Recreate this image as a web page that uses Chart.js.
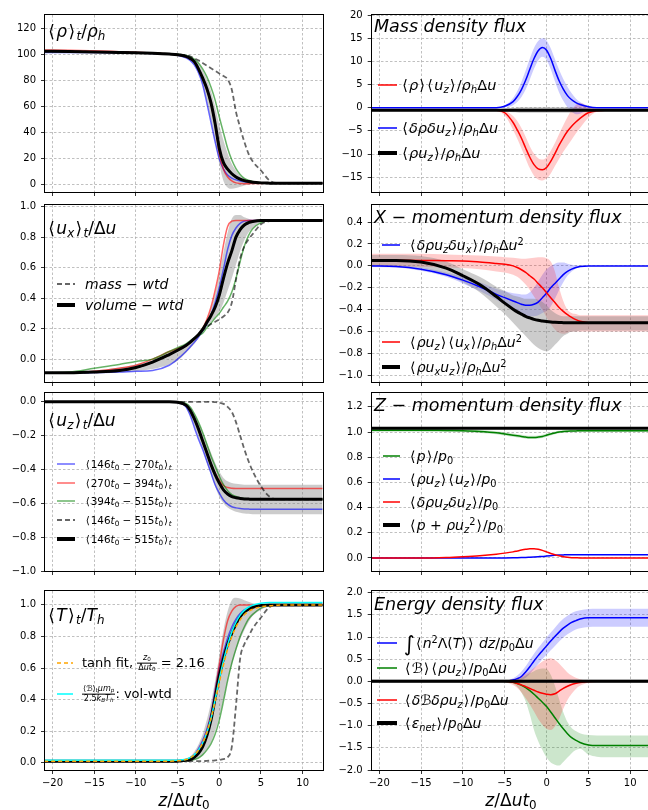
<!DOCTYPE html>
<html lang="en">
<head>
<meta charset="UTF-8">
<title>Time-averaged front profiles and density fluxes</title>
<script src="https://cdn.jsdelivr.net/npm/chart.js"></script>
<style>
  html, body { margin: 0; padding: 0; background: #fff; }
  body { width: 648px; height: 810px; position: relative; overflow: hidden;
         font-family: "DejaVu Sans", sans-serif; color: #000; }
  canvas { position: absolute; z-index: 1; }
  .txt { position: absolute; z-index: 2; white-space: nowrap; line-height: 1; transform: translateY(-50%); }
  .ctr { transform: translate(-50%, -50%); }
  .sw { position: absolute; z-index: 2; line-height: 0; }
  i { font-style: italic; }
  sub { font-size: 70%; vertical-align: -0.28em; line-height: 0; }
  sup { font-size: 70%; vertical-align: 0.55em; line-height: 0; }
  .ab { margin: 0 0.08em; }
  .fr { display: inline-block; vertical-align: middle; text-align: center; font-size: 62%; line-height: 1.1; }
  .fr > span { display: block; padding: 0 1px; }
  .fr > span:first-child { border-bottom: 0.8px solid #000; }
  .fr .ab { margin: 0; }
  .int { font-size: 150%; vertical-align: -0.12em; line-height: 0; }
</style>
</head>
<body>

<!-- panel labels -->
<div class="txt" style="left:47px; top:31px; font-size:17px">⟨<i>ρ</i>⟩<sub><i>t</i></sub>/<i>ρ<sub>h</sub></i></div>
<div class="txt" style="left:47px; top:228px; font-size:17px">⟨<i>u<sub>x</sub></i>⟩<sub><i>t</i></sub>/Δ<i>u</i></div>
<div class="txt" style="left:47px; top:420px; font-size:17px">⟨<i>u<sub>z</sub></i>⟩<sub><i>t</i></sub>/Δ<i>u</i></div>
<div class="txt" style="left:47px; top:615px; font-size:17px">⟨<i>T</i>⟩<sub><i>t</i></sub>/<i>T<sub>h</sub></i></div>
<div class="txt" style="left:374px; top:27px; font-size:17.5px"><i>Mass density flux</i></div>
<div class="txt" style="left:374px; top:218px; font-size:17.5px"><i>X</i> − <i>momentum density flux</i></div>
<div class="txt" style="left:374px; top:406px; font-size:17.5px"><i>Z</i> − <i>momentum density flux</i></div>
<div class="txt" style="left:374px; top:605px; font-size:17.5px"><i>Energy density flux</i></div>

<!-- x axis titles -->
<div class="txt ctr" style="left:184px; top:800px; font-size:17px"><i>z</i>/Δ<i>ut</i><sub>0</sub></div>
<div class="txt ctr" style="left:511px; top:800px; font-size:17px"><i>z</i>/Δ<i>ut</i><sub>0</sub></div>

<script>
// shared position along the front, z / (Δu t0)
const Z = [-21, -18, -15, -12, -10, -8, -6, -5, -4, -3.5,
           -3, -2.5, -2, -1.5, -1, -0.5, 0, 0.5, 1, 1.5,
           2, 2.5, 3, 3.5, 4, 5, 6, 7, 9, 12.4];

// <rho>_t / rho_h
const rhoBlue  = [101.5, 101.5, 101.5, 101.3, 101.1, 100.8, 100.2, 99.5, 97.5, 95.5,
                  92, 86, 77, 63, 48, 33, 20, 12, 7.5, 5.2,
                  3.8, 3, 2.4, 2, 1.7, 1.4, 1.3, 1.2, 1.2, 1.2];
const rhoRed   = [103.5, 103.3, 102.8, 102.2, 101.8, 101.2, 100.4, 99.8, 98.3, 96.8,
                  94, 89, 82, 73, 62, 46, 24, 12, 6, 3,
                  1.5, 1, 0.9, 0.9, 1, 1.1, 1.2, 1.2, 1.2, 1.2];
const rhoGreen = [102.3, 102.2, 102, 101.6, 101.3, 101, 100.5, 100.2, 99.3, 98.3,
                  96.5, 93.5, 89, 83, 75, 65, 52, 40, 28, 19,
                  12.5, 8, 5, 3.5, 2.5, 1.6, 1.3, 1.2, 1.2, 1.2];
const rhoBlack = [102.5, 102.3, 102, 101.6, 101.3, 100.9, 100.3, 99.8, 98.5, 97,
                  94.5, 89, 82, 74, 63, 47, 28, 17, 12, 8.5,
                  6, 4.3, 3.2, 2.5, 2, 1.5, 1.3, 1.2, 1.2, 1.2];
const rhoMass  = [102.5, 102.3, 102, 101.7, 101.4, 101, 100.5, 100, 99.5, 98.5,
                  97, 95.5, 93.5, 91.5, 89.5, 87.5, 85.5, 83.5, 81, 73,
                  56, 44, 33, 24, 18, 11, 3.5, 1.3, 1.2, 1.2];
const rhoLo    = [101.8, 101.8, 101.7, 101.4, 101.1, 100.7, 100, 99.2, 97.5, 95.6,
                  92.5, 86.5, 77, 64, 50, 33, 16, 3, -2, -3,
                  -2.5, -1.5, -0.5, 0.2, 0.6, 0.9, 1, 1.1, 1.1, 1.1];
const rhoHi    = [103, 102.9, 102.6, 102, 101.7, 101.2, 100.7, 100.4, 99.5, 98.3,
                  96.5, 93, 88, 81, 72, 60, 46, 34, 24, 16,
                  11, 7, 5, 3.5, 2.6, 1.8, 1.5, 1.4, 1.3, 1.3];

// <u_x>_t / Δu
const uxBlue  = [-0.09, -0.09, -0.088, -0.085, -0.08, -0.075, -0.04, 0, 0.05, 0.08,
                 0.11, 0.145, 0.185, 0.23, 0.29, 0.37, 0.47, 0.59, 0.72, 0.81,
                 0.86, 0.89, 0.905, 0.91, 0.91, 0.91, 0.91, 0.91, 0.91, 0.91];
const uxRed   = [-0.09, -0.09, -0.08, -0.06, -0.04, 0, 0.05, 0.07, 0.09, 0.11,
                 0.13, 0.16, 0.2, 0.26, 0.34, 0.45, 0.58, 0.75, 0.87, 0.905,
                 0.91, 0.91, 0.91, 0.91, 0.91, 0.91, 0.91, 0.91, 0.91, 0.91];
const uxGreen = [-0.09, -0.085, -0.06, -0.035, -0.015, 0, 0.05, 0.075, 0.1, 0.12,
                 0.14, 0.155, 0.17, 0.205, 0.235, 0.27, 0.3, 0.34, 0.38, 0.44,
                 0.53, 0.64, 0.74, 0.81, 0.855, 0.895, 0.91, 0.91, 0.91, 0.91];
const uxBlack = [-0.09, -0.09, -0.085, -0.075, -0.055, -0.02, 0.03, 0.058, 0.09, 0.11,
                 0.135, 0.16, 0.195, 0.24, 0.285, 0.34, 0.42, 0.53, 0.63, 0.71,
                 0.8, 0.85, 0.88, 0.895, 0.903, 0.91, 0.91, 0.91, 0.91, 0.91];
const uxMass  = [-0.09, -0.09, -0.085, -0.075, -0.055, -0.02, 0.03, 0.058, 0.09, 0.11,
                 0.135, 0.16, 0.19, 0.21, 0.23, 0.245, 0.26, 0.28, 0.305, 0.37,
                 0.52, 0.66, 0.74, 0.785, 0.82, 0.885, 0.905, 0.91, 0.91, 0.91];
const uxLo    = [-0.095, -0.095, -0.092, -0.088, -0.08, -0.065, -0.035, -0.01, 0.04, 0.07,
                 0.1, 0.135, 0.175, 0.215, 0.245, 0.275, 0.31, 0.37, 0.45, 0.53,
                 0.62, 0.71, 0.78, 0.83, 0.86, 0.9, 0.908, 0.91, 0.91, 0.91];
const uxHi    = [-0.085, -0.085, -0.075, -0.055, -0.035, -0.005, 0.045, 0.075, 0.1, 0.12,
                 0.145, 0.175, 0.21, 0.26, 0.33, 0.43, 0.56, 0.7, 0.83, 0.92,
                 0.945, 0.945, 0.93, 0.92, 0.915, 0.912, 0.91, 0.91, 0.91, 0.91];

// <u_z>_t / Δu
const uzBlue  = [0, 0, 0, 0, 0, 0, 0, -0.005, -0.03, -0.08,
                 -0.15, -0.22, -0.28, -0.35, -0.42, -0.49, -0.54, -0.58, -0.605, -0.62,
                 -0.627, -0.631, -0.633, -0.634, -0.635, -0.635, -0.635, -0.635, -0.635, -0.635];
const uzRed   = [0, 0, 0, 0, 0, 0, 0, -0.003, -0.02, -0.05,
                 -0.1, -0.16, -0.23, -0.3, -0.37, -0.42, -0.465, -0.495, -0.507, -0.511,
                 -0.512, -0.512, -0.512, -0.512, -0.512, -0.512, -0.512, -0.512, -0.512, -0.512];
const uzGreen = [0, 0, 0, 0, 0, 0, 0, 0, -0.01, -0.03,
                 -0.07, -0.12, -0.18, -0.25, -0.32, -0.38, -0.44, -0.49, -0.525, -0.548,
                 -0.56, -0.568, -0.572, -0.575, -0.576, -0.576, -0.576, -0.576, -0.576, -0.576];
const uzBlack = [0, 0, 0, 0, 0, 0, 0, -0.003, -0.02, -0.05,
                 -0.1, -0.16, -0.23, -0.3, -0.37, -0.43, -0.48, -0.52, -0.545, -0.56,
                 -0.567, -0.571, -0.574, -0.575, -0.576, -0.576, -0.576, -0.576, -0.576, -0.576];
const uzMass  = [0, 0, 0, 0, 0, 0, 0, 0, 0, 0,
                 0, 0, 0, 0, 0, -0.002, -0.005, -0.012, -0.03, -0.06,
                 -0.12, -0.2, -0.28, -0.35, -0.41, -0.5, -0.56, -0.576, -0.576, -0.576];
const uzLo    = [0, 0, 0, 0, 0, 0, 0, -0.006, -0.035, -0.08,
                 -0.14, -0.21, -0.28, -0.36, -0.43, -0.5, -0.56, -0.6, -0.625, -0.64,
                 -0.65, -0.655, -0.66, -0.662, -0.664, -0.665, -0.665, -0.665, -0.665, -0.665];
const uzHi    = [0, 0, 0, 0, 0, 0, 0, 0, -0.01, -0.03,
                 -0.07, -0.12, -0.18, -0.24, -0.3, -0.36, -0.41, -0.45, -0.47, -0.48,
                 -0.485, -0.488, -0.49, -0.49, -0.49, -0.49, -0.49, -0.49, -0.49, -0.49];

// <T>_t / T_h
const tBlue  = [0.01, 0.01, 0.01, 0.01, 0.01, 0.01, 0.01, 0.01, 0.02, 0.03,
                0.05, 0.09, 0.14, 0.21, 0.31, 0.46, 0.6, 0.7, 0.79, 0.86,
                0.91, 0.945, 0.968, 0.98, 0.99, 1, 1, 1, 1, 1];
const tRed   = [0.01, 0.01, 0.01, 0.01, 0.01, 0.01, 0.01, 0.01, 0.015, 0.025,
                0.045, 0.08, 0.13, 0.2, 0.3, 0.45, 0.62, 0.78, 0.9, 0.96,
                0.99, 1, 1, 1, 1, 1, 1, 1, 1, 1];
const tGreen = [0.01, 0.01, 0.01, 0.01, 0.01, 0.01, 0.01, 0.01, 0.012, 0.015,
                0.02, 0.03, 0.05, 0.08, 0.12, 0.18, 0.27, 0.39, 0.52, 0.63,
                0.72, 0.8, 0.86, 0.91, 0.94, 0.98, 0.995, 1, 1, 1];
const tBlack = [0.01, 0.01, 0.01, 0.01, 0.01, 0.01, 0.01, 0.01, 0.015, 0.02,
                0.035, 0.06, 0.1, 0.17, 0.27, 0.41, 0.55, 0.66, 0.75, 0.82,
                0.88, 0.925, 0.955, 0.972, 0.985, 0.997, 1, 1, 1, 1];
const tMass  = [0.01, 0.01, 0.01, 0.01, 0.01, 0.01, 0.01, 0.01, 0.01, 0.01,
                0.01, 0.01, 0.01, 0.012, 0.013, 0.015, 0.018, 0.023, 0.035, 0.1,
                0.36, 0.66, 0.75, 0.8, 0.85, 0.92, 0.985, 1, 1, 1];
const tFit   = [0.01, 0.01, 0.01, 0.01, 0.01, 0.01, 0.01, 0.012, 0.02, 0.03,
                0.05, 0.08, 0.125, 0.19, 0.28, 0.39, 0.51, 0.62, 0.72, 0.8,
                0.86, 0.905, 0.937, 0.958, 0.972, 0.988, 0.995, 0.998, 1, 1];
const tVol   = [0.015, 0.015, 0.015, 0.015, 0.015, 0.015, 0.015, 0.016, 0.022, 0.032,
                0.05, 0.08, 0.125, 0.19, 0.28, 0.4, 0.53, 0.645, 0.745, 0.83,
                0.89, 0.935, 0.965, 0.985, 0.998, 1.01, 1.015, 1.015, 1.015, 1.015];
const tLo    = [0.01, 0.01, 0.01, 0.01, 0.01, 0.01, 0.01, 0.01, 0.01, 0.012,
                0.018, 0.03, 0.05, 0.085, 0.13, 0.2, 0.29, 0.4, 0.52, 0.62,
                0.71, 0.78, 0.84, 0.89, 0.93, 0.97, 0.99, 1, 1, 1];
const tHi    = [0.01, 0.01, 0.01, 0.01, 0.01, 0.01, 0.01, 0.012, 0.025, 0.04,
                0.07, 0.115, 0.18, 0.27, 0.38, 0.52, 0.68, 0.84, 0.96, 1.03,
                1.045, 1.04, 1.03, 1.02, 1.01, 1.003, 1, 1, 1, 1];

// mass density flux
const mRed     = [-0.55, -0.55, -0.55, -0.55, -0.55, -0.55, -0.55, -1.1, -3.2, -4.8,
                  -6.6, -8.7, -10.7, -12.3, -13.2, -13.4, -12.9, -11.6, -9.9, -8.1,
                  -6.5, -5.1, -4, -3.1, -2.3, -1.1, -0.65, -0.55, -0.55, -0.55];
const mRedLo   = [-0.7, -0.7, -0.7, -0.7, -0.7, -0.7, -0.7, -1.7, -4.8, -6.7,
                  -8.8, -11, -13.1, -14.7, -15.5, -15.7, -15.3, -14.2, -12.6, -11,
                  -9.5, -8.2, -6.9, -5.6, -4.4, -2.2, -0.9, -0.7, -0.7, -0.7];
const mRedHi   = [-0.4, -0.4, -0.4, -0.4, -0.4, -0.4, -0.4, -0.6, -1.8, -2.9,
                  -4.4, -6.3, -8.3, -9.9, -10.9, -11.2, -10.7, -9.3, -7.6, -5.7,
                  -3.8, -2, -0.5, 0.6, 1, 0.3, -0.3, -0.4, -0.4, -0.4];
const mBlue    = [0, 0, 0, 0, 0, 0, 0, 0.3, 1.3, 2.4,
                  3.9, 5.9, 8.3, 10.6, 12.3, 13, 12.4, 10.6, 8.1, 5.8,
                  4, 2.6, 1.7, 1.1, 0.7, 0.2, 0, 0, 0, 0];
const mBlueLo  = [0, 0, 0, 0, 0, 0, 0, 0.05, 0.5, 1.2,
                  2.3, 3.9, 6.1, 8.4, 10.2, 11, 10.3, 8.3, 5.7, 3.3,
                  1.5, 0.1, -0.9, -1.4, -1.3, -0.4, -0.05, 0, 0, 0];
const mBlueHi  = [0, 0, 0, 0, 0, 0, 0, 0.5, 2.1, 3.6,
                  5.6, 8, 10.6, 12.9, 14.4, 15, 14.5, 12.8, 10.5, 8.2,
                  6.2, 4.5, 3.1, 2, 1.2, 0.35, 0, 0, 0, 0];
const mBlack   = [-0.575, -0.575, -0.575, -0.575, -0.575, -0.575, -0.575, -0.575, -0.575, -0.575,
                  -0.575, -0.575, -0.575, -0.575, -0.575, -0.575, -0.575, -0.575, -0.575, -0.575,
                  -0.575, -0.575, -0.575, -0.575, -0.575, -0.575, -0.575, -0.575, -0.575, -0.575];
const mBlackLo = [-0.8, -0.8, -0.8, -0.8, -0.8, -0.8, -0.8, -0.9, -1, -1.05,
                  -1.1, -1.1, -1.1, -1.1, -1.1, -1.1, -1.1, -1.1, -1.1, -1.1,
                  -1.1, -1.1, -1.1, -1.05, -1, -0.9, -0.8, -0.8, -0.8, -0.8];
const mBlackHi = [-0.35, -0.35, -0.35, -0.35, -0.35, -0.35, -0.35, -0.2, -0.05, 0.05,
                  0.1, 0.1, 0.1, 0.1, 0.1, 0.1, 0.1, 0.1, 0.1, 0.1,
                  0.1, 0.1, 0.1, 0.05, -0.05, -0.2, -0.35, -0.35, -0.35, -0.35];

// x-momentum density flux
const xBlue    = [0, -0.005, -0.03, -0.08, -0.13, -0.19, -0.26, -0.29, -0.32, -0.335,
                  -0.35, -0.36, -0.36, -0.35, -0.33, -0.29, -0.25, -0.2, -0.16, -0.12,
                  -0.08, -0.05, -0.03, -0.015, -0.006, 0, 0, 0, 0, 0];
const xBlueLo  = [-0.01, -0.015, -0.045, -0.1, -0.16, -0.23, -0.31, -0.35, -0.39, -0.41,
                  -0.43, -0.45, -0.46, -0.46, -0.45, -0.43, -0.41, -0.37, -0.3, -0.22,
                  -0.15, -0.09, -0.05, -0.025, -0.01, 0, 0, 0, 0, 0];
const xBlueHi  = [0.01, 0.005, -0.015, -0.06, -0.1, -0.15, -0.21, -0.23, -0.25, -0.255,
                  -0.26, -0.26, -0.24, -0.2, -0.14, -0.08, -0.03, 0, 0.02, 0.03,
                  0.03, 0.02, 0.01, 0.007, 0.005, 0, 0, 0, 0, 0];
const xRed     = [0.053, 0.052, 0.05, 0.047, 0.045, 0.035, 0.022, 0.015, 0, -0.015,
                  -0.035, -0.06, -0.09, -0.12, -0.16, -0.2, -0.245, -0.29, -0.335, -0.38,
                  -0.415, -0.445, -0.47, -0.49, -0.505, -0.518, -0.52, -0.52, -0.52, -0.52];
const xRedLo   = [0, 0, -0.01, -0.015, -0.02, -0.03, -0.05, -0.06, -0.08, -0.1,
                  -0.13, -0.17, -0.22, -0.28, -0.34, -0.4, -0.47, -0.53, -0.58, -0.61,
                  -0.62, -0.61, -0.6, -0.6, -0.6, -0.6, -0.6, -0.6, -0.6, -0.6];
const xRedHi   = [0.11, 0.11, 0.11, 0.105, 0.1, 0.095, 0.085, 0.08, 0.075, 0.07,
                  0.065, 0.065, 0.07, 0.075, 0.08, 0.08, 0.07, 0.04, -0.05, -0.2,
                  -0.32, -0.4, -0.43, -0.44, -0.45, -0.45, -0.45, -0.45, -0.45, -0.45];
const xBlack   = [0.05, 0.05, 0.035, -0.02, -0.09, -0.17, -0.28, -0.34, -0.395, -0.42,
                  -0.44, -0.46, -0.475, -0.488, -0.497, -0.503, -0.508, -0.512, -0.515, -0.517,
                  -0.518, -0.519, -0.52, -0.52, -0.52, -0.52, -0.52, -0.52, -0.52, -0.52];
const xBlackLo = [0, 0, -0.02, -0.08, -0.15, -0.24, -0.37, -0.44, -0.52, -0.56,
                  -0.6, -0.64, -0.68, -0.72, -0.75, -0.77, -0.78, -0.76, -0.72, -0.68,
                  -0.64, -0.62, -0.6, -0.6, -0.59, -0.59, -0.59, -0.59, -0.59, -0.59];
const xBlackHi = [0.1, 0.1, 0.09, 0.04, -0.03, -0.1, -0.19, -0.23, -0.27, -0.28,
                  -0.29, -0.3, -0.3, -0.3, -0.31, -0.33, -0.36, -0.4, -0.43, -0.45,
                  -0.46, -0.46, -0.46, -0.46, -0.46, -0.46, -0.46, -0.46, -0.46, -0.46];

// z-momentum density flux
const zGreen   = [1.015, 1.015, 1.015, 1.012, 1.01, 1.005, 0.995, 0.985, 0.975, 0.97,
                  0.965, 0.96, 0.957, 0.957, 0.96, 0.965, 0.975, 0.985, 0.993, 1,
                  1.005, 1.007, 1.008, 1.009, 1.01, 1.01, 1.01, 1.01, 1.01, 1.01];
const zGreenLo = [1.003, 1.003, 1.003, 1, 0.998, 0.993, 0.983, 0.972, 0.962, 0.957,
                  0.952, 0.947, 0.944, 0.944, 0.947, 0.952, 0.962, 0.973, 0.982, 0.99,
                  0.995, 0.997, 0.998, 0.999, 1, 1, 1, 1, 1, 1];
const zGreenHi = [1.027, 1.027, 1.027, 1.024, 1.022, 1.017, 1.007, 0.998, 0.988, 0.983,
                  0.978, 0.973, 0.97, 0.97, 0.973, 0.978, 0.988, 0.997, 1.004, 1.01,
                  1.015, 1.017, 1.018, 1.019, 1.02, 1.02, 1.02, 1.02, 1.02, 1.02];
const zBlue    = [0, 0, 0, 0, 0, 0, 0, 0, 0.001, 0.002,
                  0.003, 0.004, 0.006, 0.008, 0.01, 0.012, 0.015, 0.018, 0.021, 0.023,
                  0.024, 0.025, 0.025, 0.025, 0.025, 0.025, 0.025, 0.025, 0.025, 0.025];
const zRed     = [0, 0, 0, 0.004, 0.01, 0.018, 0.03, 0.038, 0.048, 0.055,
                  0.062, 0.068, 0.072, 0.072, 0.068, 0.06, 0.048, 0.035, 0.025, 0.017,
                  0.01, 0.005, 0.002, 0.001, 0, 0, 0, 0, 0, 0];
const zBlack   = [1.03, 1.03, 1.03, 1.03, 1.03, 1.03, 1.03, 1.03, 1.03, 1.03,
                  1.03, 1.03, 1.03, 1.03, 1.03, 1.03, 1.03, 1.03, 1.03, 1.03,
                  1.03, 1.03, 1.03, 1.03, 1.03, 1.03, 1.03, 1.03, 1.03, 1.03];

// energy density flux
const eBlue    = [0, 0, 0, 0, 0, 0, 0, 0, 0.03, 0.06,
                  0.11, 0.21, 0.33, 0.46, 0.58, 0.69, 0.8, 0.91, 1.01, 1.11,
                  1.2, 1.27, 1.33, 1.37, 1.405, 1.435, 1.435, 1.435, 1.435, 1.435];
const eBlueLo  = [0, 0, 0, 0, 0, 0, 0, -0.01, 0, 0.01,
                  0.03, 0.08, 0.17, 0.28, 0.39, 0.5, 0.6, 0.7, 0.8, 0.9,
                  0.99, 1.06, 1.12, 1.17, 1.2, 1.225, 1.23, 1.23, 1.23, 1.23];
const eBlueHi  = [0, 0, 0, 0, 0, 0, 0, 0.01, 0.07, 0.13,
                  0.22, 0.34, 0.48, 0.62, 0.75, 0.87, 0.99, 1.1, 1.21, 1.32,
                  1.41, 1.48, 1.54, 1.58, 1.605, 1.63, 1.635, 1.635, 1.635, 1.635];
const eGreen   = [0, 0, 0, 0, 0, 0, 0, 0, -0.02, -0.05,
                  -0.09, -0.14, -0.21, -0.29, -0.38, -0.47, -0.57, -0.69, -0.82, -0.95,
                  -1.07, -1.18, -1.27, -1.33, -1.38, -1.435, -1.45, -1.45, -1.45, -1.45];
const eGreenLo = [0, 0, 0, 0, 0, 0, 0, -0.02, -0.05, -0.12,
                  -0.25, -0.45, -0.75, -1.1, -1.35, -1.55, -1.72, -1.83, -1.88, -1.9,
                  -1.82, -1.72, -1.62, -1.55, -1.52, -1.65, -1.7, -1.71, -1.71, -1.71];
const eGreenHi = [0, 0, 0, 0, 0, 0, 0, 0.02, 0.03, 0.05,
                  0.08, 0.13, 0.18, 0.23, 0.27, 0.29, 0.28, 0.15, -0.1, -0.4,
                  -0.7, -0.92, -1.05, -1.12, -1.17, -1.21, -1.22, -1.22, -1.22, -1.22];
const eRed     = [0, 0, 0, 0, 0, 0, 0, 0, -0.02, -0.05,
                  -0.08, -0.12, -0.16, -0.2, -0.24, -0.27, -0.29, -0.3, -0.28, -0.22,
                  -0.16, -0.11, -0.07, -0.045, -0.025, -0.005, 0, 0, 0, 0];
const eRedLo   = [0, 0, 0, 0, 0, 0, 0, -0.02, -0.08, -0.15,
                  -0.25, -0.38, -0.52, -0.68, -0.85, -0.98, -1.07, -1.1, -1.02, -0.85,
                  -0.62, -0.42, -0.28, -0.17, -0.1, -0.03, 0, 0, 0, 0];
const eRedHi   = [0, 0, 0, 0, 0, 0, 0, 0.02, 0.05, 0.08,
                  0.12, 0.17, 0.23, 0.3, 0.38, 0.45, 0.5, 0.52, 0.48, 0.4,
                  0.3, 0.2, 0.13, 0.08, 0.05, 0.01, 0, 0, 0, 0];
const eBlack   = [0, 0, 0, 0, 0, 0, 0, 0, 0, 0,
                  0, 0, 0, 0, 0, 0, 0, 0, 0, 0,
                  0, 0, 0, 0, 0, 0, 0, 0, 0, 0];
const eBlackLo = [-0.04, -0.04, -0.04, -0.04, -0.04, -0.04, -0.04, -0.04, -0.04, -0.04,
                  -0.04, -0.04, -0.04, -0.04, -0.04, -0.04, -0.04, -0.04, -0.04, -0.04,
                  -0.04, -0.04, -0.04, -0.04, -0.04, -0.04, -0.04, -0.04, -0.04, -0.04];
const eBlackHi = [0.04, 0.04, 0.04, 0.04, 0.04, 0.04, 0.04, 0.04, 0.04, 0.04,
                  0.04, 0.04, 0.04, 0.04, 0.04, 0.04, 0.04, 0.04, 0.04, 0.04,
                  0.04, 0.04, 0.04, 0.04, 0.04, 0.04, 0.04, 0.04, 0.04, 0.04];

// axis ticks
const xTicks = [-20, -15, -10, -5, 0, 5, 10];
const rhoTicks = [0, 20, 40, 60, 80, 100, 120];
const uxTicks = [0, 0.2, 0.4, 0.6, 0.8, 1.0];
const uzTicks = [-1.0, -0.8, -0.6, -0.4, -0.2, 0.0];
const tTicks = [0, 0.2, 0.4, 0.6, 0.8, 1.0];
const mTicks = [-15, -10, -5, 0, 5, 10, 15, 20];
const xmTicks = [-1.0, -0.8, -0.6, -0.4, -0.2, 0, 0.2, 0.4];
const zmTicks = [0, 0.2, 0.4, 0.6, 0.8, 1.0, 1.2];
const eTicks = [-2.0, -1.5, -1.0, -0.5, 0, 0.5, 1.0, 1.5, 2.0];

const FONT = '"DejaVu Sans", sans-serif';
const COL_L = { canvasLeft: 0, x0: 45, x1: 322.7 };
const COL_R = { canvasLeft: 326, x0: 371.7, x1: 650.3 };
const ROWS = [[14, 195], [204.3, 385], [392.7, 573.3], [590, 770]];

const BLUE_A = 'rgba(0,0,255,0.6)', RED_A = 'rgba(255,0,0,0.6)', GREEN_A = 'rgba(0,128,0,0.6)';
const GRAY_BAND = 'rgba(128,128,128,0.4)';
const DASH_GRAY = 'rgba(0,0,0,0.6)';

const pts = ys => Z.map((x, i) => ({ x: x, y: ys[i] }));

function ln(ys, color, w, dash) {
  return { data: pts(ys), borderColor: color, borderWidth: w, borderDash: dash || [],
           pointRadius: 0, fill: false, cubicInterpolationMode: 'monotone' };
}
function band(lo, hi, color) {
  return [
    { data: pts(lo), borderColor: 'rgba(0,0,0,0)', borderWidth: 1, pointRadius: 0,
      fill: false, cubicInterpolationMode: 'monotone' },
    { data: pts(hi), borderColor: 'rgba(0,0,0,0)', borderWidth: 1, pointRadius: 0,
      backgroundColor: color, fill: '-1', cubicInterpolationMode: 'monotone' }
  ];
}

const framePlugin = {
  id: 'frame',
  afterDraw(chart) {
    const a = chart.chartArea, ctx = chart.ctx;
    ctx.save();
    ctx.strokeStyle = '#000';
    ctx.lineWidth = 1;
    ctx.strokeRect(Math.round(a.left) - 0.5, Math.round(a.top) - 0.5,
                   Math.round(a.right) - Math.round(a.left) + 1, Math.round(a.bottom) - Math.round(a.top) + 1);
    ctx.restore();
  }
};

function fmt(v, dec) {
  return v.toFixed(dec).replace('-', '\u2212');
}

function panel(col, row, yMin, yMax, yTicks, dec, sets, showX) {
  const ct = Math.floor(row[0]) - 10;
  const bottomH = showX ? 40 : 8;
  const ch = Math.ceil(row[1]) + bottomH - ct;
  const cw = Math.ceil(col.x1) + 4 - col.canvasLeft;
  const cv = document.createElement('canvas');
  cv.width = cw; cv.height = ch;
  cv.style.left = col.canvasLeft + 'px';
  cv.style.top = ct + 'px';
  cv.style.width = cw + 'px';
  cv.style.height = ch + 'px';
  document.body.appendChild(cv);

  // first listed is drawn at the bottom
  sets.forEach((d, i) => { d.order = sets.length - i; });

  const grid = { color: '#b0b0b0', lineWidth: 0.8, drawTicks: true, tickLength: 4,
                 tickColor: '#000', tickWidth: 0.8, tickBorderDash: [] };
  const border = { display: false, dash: [2.5, 2] };

  new Chart(cv, {
    type: 'line',
    data: { datasets: sets },
    options: {
      responsive: false, animation: false, events: [],
      layout: { padding: { left: 0, top: row[0] - ct, right: cw + col.canvasLeft - col.x1, bottom: 0 } },
      plugins: { legend: { display: false }, tooltip: { enabled: false } },
      scales: {
        x: {
          type: 'linear', min: -20.9, max: 12.4,
          afterBuildTicks: ax => { ax.ticks = xTicks.map(v => ({ value: v })); },
          afterFit: ax => { ax.height = ct + ch - row[1]; },
          ticks: { display: showX, autoSkip: false, maxRotation: 0, padding: 3, color: '#000',
                   font: { family: FONT, size: 10 }, callback: v => fmt(v, 0) },
          grid: grid, border: border
        },
        y: {
          type: 'linear', min: yMin, max: yMax,
          afterBuildTicks: ax => { ax.ticks = yTicks.map(v => ({ value: v })); },
          afterFit: ax => { ax.width = col.x0 - col.canvasLeft; },
          ticks: { autoSkip: false, padding: 5, color: '#000',
                   font: { family: FONT, size: 10 }, callback: v => fmt(v, dec) },
          grid: grid, border: border
        }
      }
    },
    plugins: [framePlugin]
  });
}

function legend(x0, x1, xt, size, rows) {
  rows.forEach(r => {
    const [y, color, w, dash, html] = r;
    const len = x1 - x0;
    const s = document.createElement('div');
    s.className = 'sw';
    s.style.left = x0 + 'px';
    s.style.top = (y - 5) + 'px';
    s.innerHTML = '<svg width="' + len + '" height="10"><line x1="0" y1="5" x2="' + len + '" y2="5" stroke="' +
      color + '" stroke-width="' + w + '"' + (dash ? ' stroke-dasharray="' + dash + '"' : '') + '/></svg>';
    document.body.appendChild(s);
    const t = document.createElement('div');
    t.className = 'txt';
    t.style.left = xt + 'px';
    t.style.top = y + 'px';
    t.style.fontSize = size + 'px';
    t.innerHTML = html;
    document.body.appendChild(t);
  });
}

// left column
panel(COL_L, ROWS[0], -5.5, 130.3, rhoTicks, 0, [
  ...band(rhoLo, rhoHi, GRAY_BAND),
  ln(rhoBlue, BLUE_A, 1.5), ln(rhoRed, RED_A, 1.5), ln(rhoGreen, GREEN_A, 1.5),
  ln(rhoMass, DASH_GRAY, 1.8, [5, 3]), ln(rhoBlack, '#000', 3)
], false);

panel(COL_L, ROWS[1], -0.15, 1.011, uxTicks, 1, [
  ...band(uxLo, uxHi, GRAY_BAND),
  ln(uxBlue, BLUE_A, 1.5), ln(uxRed, RED_A, 1.5), ln(uxGreen, GREEN_A, 1.5),
  ln(uxMass, DASH_GRAY, 1.8, [5, 3]), ln(uxBlack, '#000', 3)
], false);

panel(COL_L, ROWS[2], -1.0, 0.052, uzTicks, 1, [
  ...band(uzLo, uzHi, GRAY_BAND),
  ln(uzBlue, BLUE_A, 1.5), ln(uzRed, RED_A, 1.5), ln(uzGreen, GREEN_A, 1.5),
  ln(uzMass, DASH_GRAY, 1.8, [5, 3]), ln(uzBlack, '#000', 3)
], false);

panel(COL_L, ROWS[3], -0.046, 1.088, tTicks, 1, [
  ...band(tLo, tHi, GRAY_BAND),
  ln(tBlue, BLUE_A, 1.5), ln(tRed, RED_A, 1.5), ln(tGreen, GREEN_A, 1.5),
  ln(tMass, DASH_GRAY, 1.8, [5, 3]), ln(tBlack, '#000', 3),
  ln(tVol, '#00ffff', 1.5), ln(tFit, '#ffa500', 1.5, [4, 3])
], true);

// right column
panel(COL_R, ROWS[0], -18.2, 20, mTicks, 0, [
  ...band(mRedLo, mRedHi, 'rgba(255,0,0,0.2)'),
  ...band(mBlueLo, mBlueHi, 'rgba(0,0,255,0.2)'),
  ...band(mBlackLo, mBlackHi, GRAY_BAND),
  ln(mRed, '#ff0000', 1.5), ln(mBlue, '#0000ff', 1.5), ln(mBlack, '#000', 3)
], false);

panel(COL_R, ROWS[1], -1.06, 0.556, xmTicks, 1, [
  ...band(xBlueLo, xBlueHi, 'rgba(0,0,255,0.2)'),
  ...band(xRedLo, xRedHi, 'rgba(255,0,0,0.2)'),
  ...band(xBlackLo, xBlackHi, GRAY_BAND),
  ln(xBlue, '#0000ff', 1.5), ln(xRed, '#ff0000', 1.5), ln(xBlack, '#000', 3)
], false);

panel(COL_R, ROWS[2], -0.104, 1.31, zmTicks, 1, [
  ...band(zGreenLo, zGreenHi, 'rgba(0,128,0,0.2)'),
  ln(zGreen, '#008000', 1.5), ln(zBlue, '#0000ff', 1.5), ln(zRed, '#ff0000', 1.5),
  ln(zBlack, '#000', 3)
], false);

panel(COL_R, ROWS[3], -2.0, 2.038, eTicks, 1, [
  ...band(eBlueLo, eBlueHi, 'rgba(0,0,255,0.2)'),
  ...band(eGreenLo, eGreenHi, 'rgba(0,128,0,0.2)'),
  ...band(eRedLo, eRedHi, 'rgba(255,0,0,0.2)'),
  ...band(eBlackLo, eBlackHi, GRAY_BAND),
  ln(eBlue, '#0000ff', 1.5), ln(eGreen, '#008000', 1.5), ln(eRed, '#ff0000', 1.5),
  ln(eBlack, '#000', 3)
], true);

// legends
legend(57, 75, 85, 14, [
  [284.3, DASH_GRAY, 1.8, '5 3', '<i>mass</i> − <i>wtd</i>'],
  [305, '#000', 4, null, '<i>volume</i> − <i>wtd</i>']
]);
legend(57, 75, 85, 10.4, [
  [464, BLUE_A, 1.5, null, '⟨146<i>t</i><sub>0</sub> − 270<i>t</i><sub>0</sub>⟩<sub><i>t</i></sub>'],
  [482.5, RED_A, 1.5, null, '⟨270<i>t</i><sub>0</sub> − 394<i>t</i><sub>0</sub>⟩<sub><i>t</i></sub>'],
  [501, GREEN_A, 1.5, null, '⟨394<i>t</i><sub>0</sub> − 515<i>t</i><sub>0</sub>⟩<sub><i>t</i></sub>'],
  [520, DASH_GRAY, 1.8, '5 3', '⟨146<i>t</i><sub>0</sub> − 515<i>t</i><sub>0</sub>⟩<sub><i>t</i></sub>'],
  [538.5, '#000', 4, null, '⟨146<i>t</i><sub>0</sub> − 515<i>t</i><sub>0</sub>⟩<sub><i>t</i></sub>']
]);
legend(57, 73, 82, 13, [
  [662.7, '#ffa500', 1.5, '4 3', 'tanh fit, <span class="fr"><span><i>z</i><sub>0</sub></span><span>Δ<i>ut</i><sub>0</sub></span></span> = 2.16'],
  [694.3, '#00ffff', 1.5, null, '<span class="fr"><span>⟨<i>ℬ</i>⟩<sub><i>t</i></sub><i>μm<sub>p</sub></i></span><span>2.5<i>k<sub>B</sub>T<sub>h</sub></i></span></span>: vol-wtd']
]);
legend(378, 397, 401, 14.5, [
  [85, '#ff0000', 1.5, null, '⟨<i>ρ</i>⟩⟨<i>u<sub>z</sub></i>⟩/<i>ρ<sub>h</sub></i>Δ<i>u</i>'],
  [128.3, '#0000ff', 1.5, null, '⟨<i>δρδu<sub>z</sub></i>⟩/<i>ρ<sub>h</sub></i>Δ<i>u</i>'],
  [152.7, '#000', 4, null, '⟨<i>ρu<sub>z</sub></i>⟩/<i>ρ<sub>h</sub></i>Δ<i>u</i>']
]);
legend(382, 400, 409, 14, [
  [245, '#0000ff', 1.5, null, '⟨<i>δρu<sub>z</sub>δu<sub>x</sub></i>⟩/<i>ρ<sub>h</sub></i>Δ<i>u</i><sup>2</sup>'],
  [341.7, '#ff0000', 1.5, null, '⟨<i>ρu<sub>z</sub></i>⟩⟨<i>u<sub>x</sub></i>⟩/<i>ρ<sub>h</sub></i>Δ<i>u</i><sup>2</sup>'],
  [366.7, '#000', 4, null, '⟨<i>ρu<sub>x</sub>u<sub>z</sub></i>⟩/<i>ρ<sub>h</sub></i>Δ<i>u</i><sup>2</sup>']
]);
legend(383, 400, 409, 14, [
  [455.7, '#008000', 1.5, null, '⟨<i>p</i>⟩/<i>p</i><sub>0</sub>'],
  [479, '#0000ff', 1.5, null, '⟨<i>ρu<sub>z</sub></i>⟩⟨<i>u<sub>z</sub></i>⟩/<i>p</i><sub>0</sub>'],
  [501.7, '#ff0000', 1.5, null, '⟨<i>δρu<sub>z</sub>δu<sub>z</sub></i>⟩/<i>p</i><sub>0</sub>'],
  [525, '#000', 4, null, '⟨<i>p</i> + <i>ρu<sub>z</sub></i><sup>2</sup>⟩/<i>p</i><sub>0</sub>']
]);
legend(377, 397, 404, 14, [
  [643.3, '#0000ff', 1.5, null, '<span class="int">∫</span>⟨<i>n</i><sup>2</sup>Λ(<i>T</i>)⟩ <i>dz</i>/<i>p</i><sub>0</sub>Δ<i>u</i>'],
  [668.3, '#008000', 1.5, null, '⟨<i>ℬ</i>⟩⟨<i>ρu<sub>z</sub></i>⟩/<i>p</i><sub>0</sub>Δ<i>u</i>'],
  [700, '#ff0000', 1.5, null, '⟨<i>δℬδρu<sub>z</sub></i>⟩/<i>p</i><sub>0</sub>Δ<i>u</i>'],
  [723.3, '#000', 4, null, '⟨<i>ε<sub>net</sub></i>⟩/<i>p</i><sub>0</sub>Δ<i>u</i>']
]);

// give the angle brackets a little side room, as mathtext does
document.querySelectorAll('.txt').forEach(el => {
  el.innerHTML = el.innerHTML.replace(/([⟨⟩])/g, '<span class="ab">$1</span>');
});
</script>
</body>
</html>
